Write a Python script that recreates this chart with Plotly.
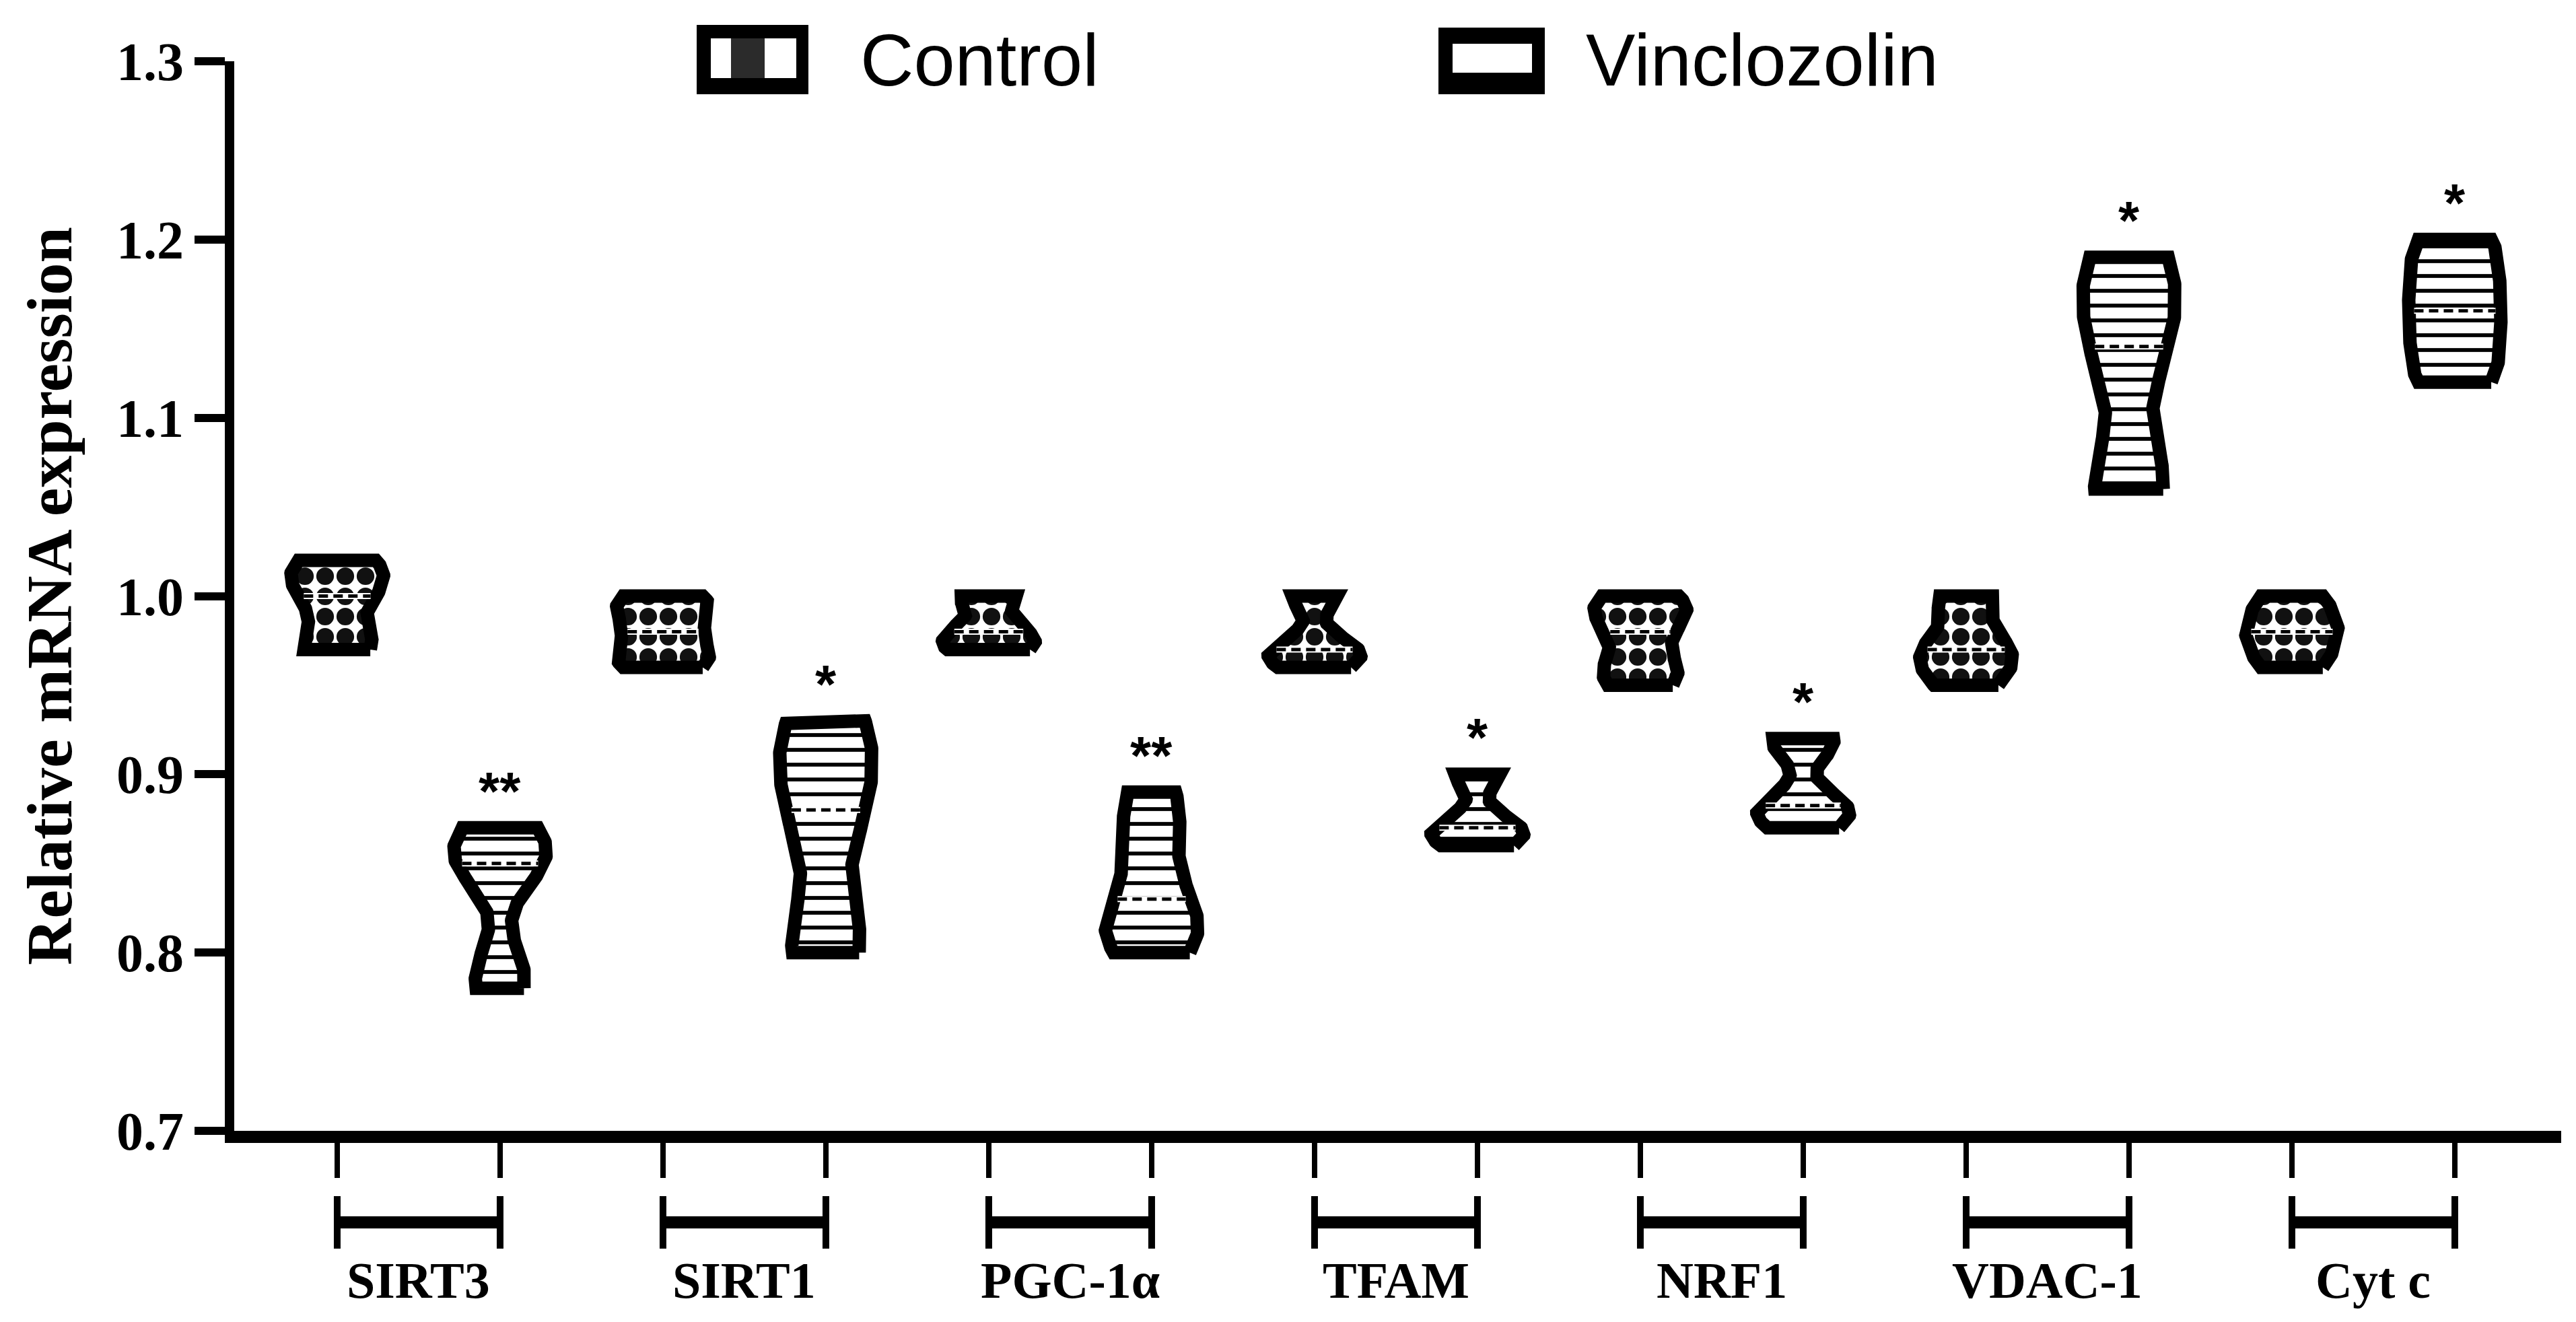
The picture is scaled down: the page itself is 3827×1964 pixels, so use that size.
import numpy as np
import plotly.graph_objects as go

# ---------------- data ----------------
genes = ["SIRT3", "SIRT1", "PGC-1α", "TFAM", "NRF1", "VDAC-1", "Cyt c"]
groups = ["Control", "Vinclozolin"]

sirt3_control = [0.97, 0.975, 0.995, 1.005, 1.015, 1.02]
sirt3_vinclozolin = [0.78, 0.79, 0.85, 0.85, 0.86, 0.87]
sirt1_control = [0.96, 0.965, 0.975, 0.985, 0.995, 1.00]
sirt1_vinclozolin = [0.80, 0.81, 0.87, 0.89, 0.92, 0.93]
pgc1a_control = [0.97, 0.97, 0.975, 0.98, 0.985, 0.998, 1.00]
pgc1a_vinclozolin = [0.80, 0.81, 0.82, 0.84, 0.87, 0.89]
tfam_control = [0.96, 0.965, 0.965, 0.97, 0.975, 1.00, 1.00]
tfam_vinclozolin = [0.86, 0.865, 0.865, 0.87, 0.875, 0.90, 0.90]
nrf1_control = [0.95, 0.955, 0.965, 0.98, 0.99, 0.995, 1.00]
nrf1_vinclozolin = [0.87, 0.875, 0.88, 0.88, 0.885, 0.915, 0.92, 0.92]
vdac1_control = [0.95, 0.955, 0.965, 0.97, 0.975, 0.995, 1.00]
vdac1_vinclozolin = [1.06, 1.065, 1.13, 1.15, 1.18, 1.19]
cytc_control = [0.96, 0.965, 0.975, 0.98, 0.985, 0.995, 1.00]
cytc_vinclozolin = [1.12, 1.125, 1.14, 1.16, 1.16, 1.18, 1.195, 1.20]

control_sets = [sirt3_control, sirt1_control, pgc1a_control, tfam_control,
                nrf1_control, vdac1_control, cytc_control]
vinclozolin_sets = [sirt3_vinclozolin, sirt1_vinclozolin, pgc1a_vinclozolin,
                    tfam_vinclozolin, nrf1_vinclozolin, vdac1_vinclozolin,
                    cytc_vinclozolin]
significance = ["**", "*", "**", "*", "*", "*", "*"]
y_ticks = [0.7, 0.8, 0.9, 1.0, 1.1, 1.2, 1.3]

# ---------------- geometry / style ----------------
W, H = 3827, 1964
L, R, T, B = 340, 30, 83, 292
X_RANGE = [-0.632, 13.653]
HALF_WIDTH = 0.285
SMOOTHING = 5.0

CHECKER = dict(shape=".", size=30, solidity=0.6, fgcolor="#111111",
               bgcolor="white", fgopacity=1, fillmode="replace")
STRIPES = dict(shape="-", size=22, solidity=0.26, fgcolor="black",
               bgcolor="white", fgopacity=1, fillmode="replace")


def paper_x(px):
    return (px - L) / (W - L - R)


def paper_y(py):
    return (H - B - py) / (H - T - B)


def kde_outline(values, n=260):
    v = np.asarray(values, dtype=float)
    lo, hi = v.min(), v.max()
    h = (hi - lo) / SMOOTHING
    ys = np.linspace(lo, hi, n)
    dens = np.exp(-0.5 * ((ys[:, None] - v[None, :]) / h) ** 2).sum(axis=1)
    w = dens / dens.max() * HALF_WIDTH
    return ys, w


fig = go.Figure()

for gi, gene in enumerate(genes):
    for k, (vals, pattern) in enumerate(((control_sets[gi], CHECKER),
                                         (vinclozolin_sets[gi], STRIPES))):
        pos = 2 * gi + k
        ys, w = kde_outline(vals)
        xs = np.concatenate([pos + w, (pos - w)[::-1], [pos + w[0]]])
        yy = np.concatenate([ys, ys[::-1], [ys[0]]])
        fig.add_trace(go.Scatter(
            x=xs, y=yy, mode="lines", fill="toself",
            fillcolor="white", fillpattern=pattern,
            line=dict(color="black", width=20), opacity=1,
            name=f"{gene} {groups[k]}", hoverinfo="skip", showlegend=False,
        ))
        med = float(np.median(vals))
        wm = float(np.interp(med, ys, w)) - 0.035
        fig.add_trace(go.Scatter(
            x=[pos - wm, pos + wm], y=[med, med], mode="lines",
            line=dict(color="white", width=9),
            hoverinfo="skip", showlegend=False,
        ))
        fig.add_trace(go.Scatter(
            x=[pos - wm, pos + wm], y=[med, med], mode="lines",
            line=dict(color="black", width=5, dash="14px,8px"),
            hoverinfo="skip", showlegend=False,
        ))
    # significance stars above the vinclozolin violin
    fig.add_annotation(
        x=2 * gi + 1, y=max(vinclozolin_sets[gi]), xref="x", yref="y",
        text=significance[gi], showarrow=False, yanchor="bottom", yshift=8,
        font=dict(family="Liberation Sans", size=80, color="black", weight="bold"),
    )

# group brackets and gene labels below the axis
for gi, gene in enumerate(genes):
    a, b = 2 * gi, 2 * gi + 1
    fig.add_shape(type="line", xref="x", yref="paper", x0=a, x1=b,
                  y0=paper_y(1808), y1=paper_y(1808),
                  line=dict(color="black", width=18))
    for xx in (a, b):
        fig.add_shape(type="line", xref="x", yref="paper", x0=xx, x1=xx,
                      y0=paper_y(1769), y1=paper_y(1847),
                      line=dict(color="black", width=10))
    fig.add_annotation(
        x=(a + b) / 2, y=paper_y(1850), xref="x", yref="paper",
        text=gene, showarrow=False, yanchor="top",
        font=dict(family="Liberation Serif", size=76, color="black", weight="bold"),
    )

# legend (drawn as large boxes like the original)
def add_rect(x0, y0, x1, y1, color):
    fig.add_shape(type="rect", xref="paper", yref="paper",
                  x0=paper_x(x0), x1=paper_x(x1), y0=paper_y(y1), y1=paper_y(y0),
                  line=dict(width=0), fillcolor=color, layer="above")

add_rect(1027, 29, 1193, 132, "black")
add_rect(1048, 49, 1175, 108, "white")
add_rect(1078, 49, 1128, 108, "#2b2b2b")
add_rect(2129, 33, 2287, 132, "black")
add_rect(2150, 57, 2268, 100, "white")
for label, px in ((groups[0], 1268), (groups[1], 2346)):
    fig.add_annotation(
        x=paper_x(px), y=paper_y(80), xref="paper", yref="paper",
        text=label, showarrow=False, xanchor="left", yanchor="middle",
        font=dict(family="Liberation Sans", size=110, color="black"),
    )

fig.update_layout(
    width=W, height=H,
    margin=dict(l=L, r=R, t=T, b=B, autoexpand=False),
    plot_bgcolor="white", paper_bgcolor="white", showlegend=False,
)
fig.update_xaxes(
    range=X_RANGE, tickvals=list(range(2 * len(genes))),
    ticktext=[""] * (2 * len(genes)),
    ticks="outside", ticklen=52, tickwidth=8, tickcolor="black",
    showline=True, linewidth=18, linecolor="black",
    showgrid=False, zeroline=False,
)
fig.update_yaxes(
    range=[0.7, 1.3], tickvals=y_ticks, ticktext=[f"{t:.1f}" for t in y_ticks],
    ticks="outside", ticklen=45, tickwidth=12, tickcolor="black",
    tickfont=dict(family="Liberation Serif", size=80, color="black", weight="bold"),
    showline=True, linewidth=14, linecolor="black",
    showgrid=False, zeroline=False,
    title=dict(text="Relative mRNA expression", standoff=40,
               font=dict(family="Liberation Serif", size=96, color="black", weight="bold")),
)

fig.write_html("out.html")
